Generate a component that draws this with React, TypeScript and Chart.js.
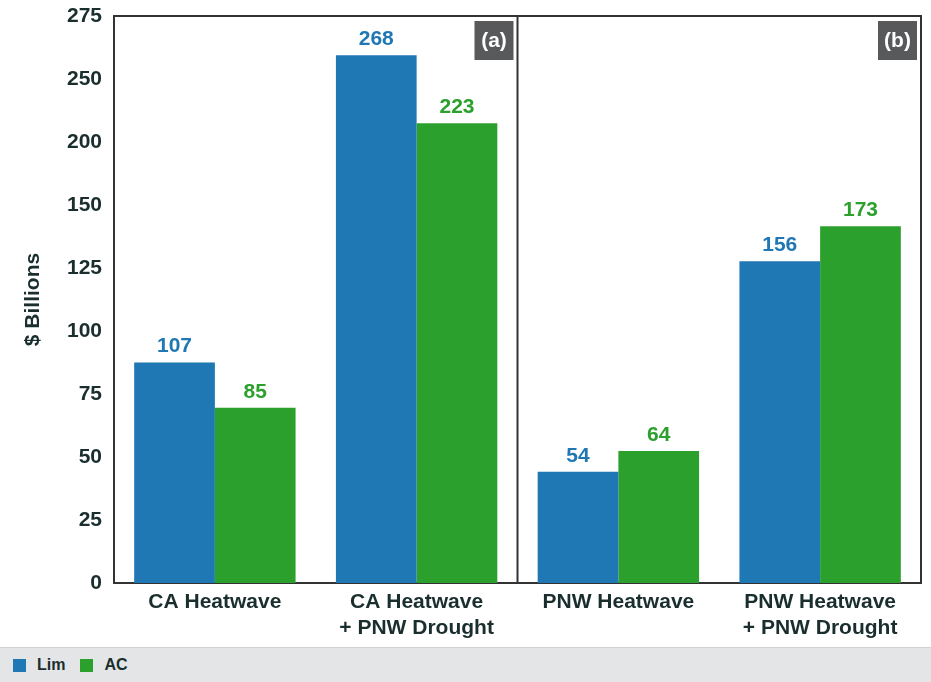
import React, { useEffect, useRef } from "react";
import { Chart, registerables } from "chart.js";

Chart.register(...registerables);

// ---- data ----
const categories: string[][] = [
  ["CA Heatwave"],
  ["CA Heatwave", "+ PNW Drought"],
  ["PNW Heatwave"],
  ["PNW Heatwave", "+ PNW Drought"],
];
const seriesNames = ["Lim", "AC"];
const seriesColors = ["#1f77b4", "#2ca02c"];
// bar heights as drawn in the picture
const limValues = [107, 256, 54, 156];
const acValues = [85, 223, 64, 173];
// numbers printed above the bars
const limLabels = ["107", "268", "54", "156"];
const acLabels = ["85", "223", "64", "173"];
const yTickLabels = ["0", "25", "50", "75", "100", "125", "150", "200", "250", "275"];
const yMax = 275;
const yTitle = "$ Billions";
const panelTags = ["(a)", "(b)"];

const FONT = "'Liberation Sans', Arial, Helvetica, sans-serif";
const TEXT = "#1a2e2e";
const LINE = "#333333";

const annotatePlugin = {
  id: "annotate",
  afterDraw(chart: any) {
    const { ctx, chartArea: a } = chart;
    const x = chart.scales.x;
    const mid = (x.getPixelForTick(1) + x.getPixelForTick(2)) / 2;
    ctx.save();
    // frame top / right + panel divider
    ctx.strokeStyle = LINE;
    ctx.lineWidth = 2;
    ctx.beginPath();
    ctx.moveTo(a.left, a.top);
    ctx.lineTo(a.right, a.top);
    ctx.lineTo(a.right, a.bottom);
    ctx.moveTo(mid, a.top);
    ctx.lineTo(mid, a.bottom);
    ctx.stroke();

    // value labels
    const valueLabels = [limLabels, acLabels];
    ctx.font = `bold 21px ${FONT}`;
    ctx.textAlign = "center";
    ctx.textBaseline = "alphabetic";
    chart.data.datasets.forEach((ds: any, di: number) => {
      const meta = chart.getDatasetMeta(di);
      meta.data.forEach((bar: any, i: number) => {
        ctx.fillStyle = ds.backgroundColor;
        ctx.fillText(valueLabels[di][i], bar.x, bar.y - 10);
      });
    });

    // panel tags
    const rights = [mid, a.right];
    panelTags.forEach((t, i) => {
      const r = rights[i] - 4;
      const size = 39;
      const top = a.top + 5;
      ctx.fillStyle = "#58595b";
      ctx.fillRect(r - size, top, size, size);
      ctx.fillStyle = "#ffffff";
      ctx.textBaseline = "middle";
      ctx.fillText(t, r - size / 2, top + size / 2 + 1);
    });
    ctx.restore();
  },
};

export default function App() {
  const canvasRef = useRef<HTMLCanvasElement | null>(null);

  useEffect(() => {
    if (!canvasRef.current) return;
    const chart = new Chart(canvasRef.current, {
      type: "bar",
      data: {
        labels: categories,
        datasets: [
          {
            label: seriesNames[0],
            data: limValues,
            backgroundColor: seriesColors[0],
            categoryPercentage: 0.8,
            barPercentage: 1.0,
          },
          {
            label: seriesNames[1],
            data: acValues,
            backgroundColor: seriesColors[1],
            categoryPercentage: 0.8,
            barPercentage: 1.0,
          },
        ],
      },
      options: {
        responsive: false,
        animation: false,
        layout: { padding: { top: 16, right: 10, left: 0, bottom: 0 } },
        plugins: {
          legend: { display: false },
          tooltip: { enabled: false },
        },
        scales: {
          x: {
            grid: { display: false, drawTicks: false },
            border: { display: true, color: LINE, width: 2 },
            ticks: {
              padding: 7,
              color: TEXT,
              font: { family: FONT, size: 21, weight: "bold", lineHeight: 1.2 },
              maxRotation: 0,
              autoSkip: false,
            },
            afterFit: (scale: any) => {
              scale.height = 64;
              scale.paddingLeft = 0;
              scale.paddingRight = 0;
            },
          },
          y: {
            min: 0,
            max: yMax,
            grid: { display: false, drawTicks: false },
            border: { display: true, color: LINE, width: 2 },
            afterBuildTicks: (scale: any) => {
              scale.ticks = yTickLabels.map((_, i) => ({
                value: (i * yMax) / (yTickLabels.length - 1),
              }));
            },
            ticks: {
              padding: 12,
              color: TEXT,
              font: { family: FONT, size: 21, weight: "bold" },
              callback: (_v: any, index: number) => yTickLabels[index],
            },
            title: {
              display: true,
              text: yTitle,
              color: TEXT,
              padding: { top: 21, bottom: 0 },
              font: { family: FONT, size: 21, weight: "bold", lineHeight: 1.2 },
            },
            afterFit: (scale: any) => {
              scale.width = 114;
              scale.paddingTop = 0;
              scale.paddingBottom = 0;
            },
          },
        },
      },
      plugins: [annotatePlugin],
    } as any);
    return () => chart.destroy();
  }, []);

  return (
    <div
      style={{
        position: "absolute",
        left: 0,
        top: 0,
        width: 931,
        height: 682,
        background: "#ffffff",
        fontFamily: FONT,
      }}
    >
      <canvas ref={canvasRef} width={931} height={647} style={{ display: "block" }} />
      <div
        style={{
          position: "absolute",
          left: 0,
          top: 647,
          width: 931,
          height: 35,
          boxSizing: "border-box",
          background: "#e4e5e7",
          borderTop: "1px solid #cfd1d3",
          display: "flex",
          alignItems: "center",
          paddingLeft: 13,
        }}
      >
        {seriesNames.map((name, i) => (
          <div key={name} style={{ display: "flex", alignItems: "center", marginRight: 15 }}>
            <span
              style={{
                display: "inline-block",
                width: 13,
                height: 13,
                background: seriesColors[i],
                marginRight: 11,
              }}
            />
            <span style={{ fontWeight: "bold", fontSize: 16, color: TEXT, lineHeight: "16px" }}>
              {name}
            </span>
          </div>
        ))}
      </div>
    </div>
  );
}
